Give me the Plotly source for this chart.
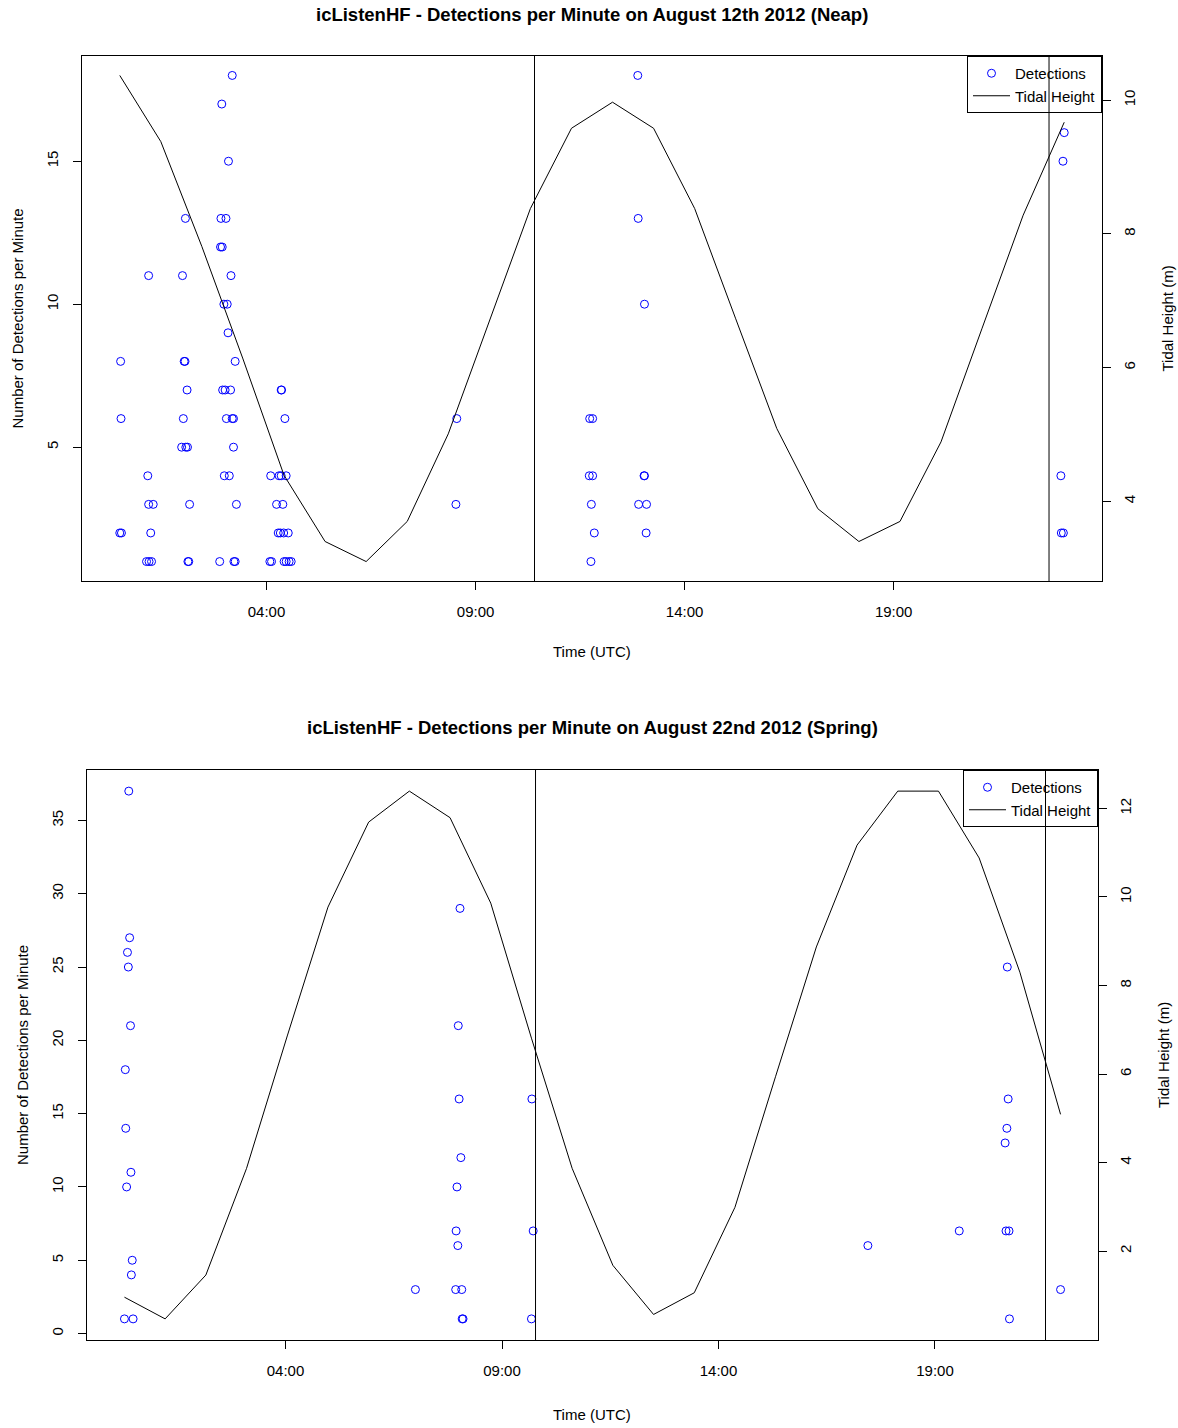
import plotly.graph_objects as go

# ---------------- August 12th 2012 (Neap) ----------------
# detection times (decimal hours UTC) and detections per minute
neap_time = [
    3.18, 12.88,
    2.93,
    23.08,
    3.09, 23.05,
    2.06, 2.91, 3.03, 12.89,
    2.90, 2.94,
    1.18, 1.99, 3.15,
    2.98, 3.06, 13.04,
    3.08,
    0.51, 2.03, 2.05, 3.25,
    2.10, 2.95, 3.01, 3.14, 4.35, 4.36,
    0.52, 2.01, 3.04, 3.18, 3.21, 4.44, 8.55, 11.73, 11.80,
    1.97, 2.07, 2.11, 3.21,
    1.16, 2.99, 3.11, 4.10, 4.30, 4.35, 4.47, 11.72, 11.80, 13.03, 13.04, 23.00,
    1.18, 1.29, 2.16, 3.28, 4.24, 4.39, 8.53, 11.77, 12.90, 13.09,
    0.49, 0.53, 1.23, 4.28, 4.33, 4.41, 4.52, 11.84, 13.08, 23.01, 23.06,
    1.13, 1.19, 1.25, 2.12, 2.14, 2.88, 3.22, 3.25, 4.08, 4.12, 4.42, 4.47, 4.54, 4.59, 11.76,
]
neap_count = (
    [18] * 2 + [17] * 1 + [16] * 1 + [15] * 2 + [13] * 4 + [12] * 2 + [11] * 3
    + [10] * 3 + [9] * 1 + [8] * 4 + [7] * 6 + [6] * 9 + [5] * 4 + [4] * 12
    + [3] * 10 + [2] * 11 + [1] * 15
)

# hourly tidal height (m)
tide_hour = list(range(24))
neap_tide = [10.37, 9.38, 7.81, 6.13, 4.39, 3.40, 3.10, 3.70, 5.01, 6.71, 8.38, 9.58,
             9.97, 9.58, 8.38, 6.73, 5.09, 3.89, 3.40, 3.70, 4.89, 6.59, 8.28, 9.67]

# ---------------- August 22nd 2012 (Spring) ----------------
spring_time = [
    0.28, 0.30, 0.31, 0.33, 0.35, 0.37, 0.38, 0.40, 0.42, 0.43, 0.44, 0.46, 0.48,
    7.00, 7.93, 7.94, 7.96, 7.98, 7.99, 8.01, 8.03, 8.05, 8.07, 8.08, 8.10,
    9.68, 9.69, 9.72,
    17.45, 19.56, 20.62, 20.64, 20.66, 20.67, 20.69, 20.71, 20.72, 21.90,
]
spring_count = [
    1, 18, 14, 10, 26, 25, 37, 27, 21, 11, 4, 5, 1,
    3, 3, 7, 10, 6, 21, 16, 29, 12, 3, 1, 1,
    1, 16, 7,
    6, 7, 13, 7, 14, 25, 16, 7, 1, 3,
]
spring_tide = [0.96, 0.47, 1.46, 3.87, 6.86, 9.77, 11.69, 12.39, 11.79, 9.86, 6.81, 3.87,
               1.68, 0.57, 1.06, 2.99, 5.95, 8.87, 11.17, 12.39, 12.39, 10.88, 8.30, 5.09]

# reference vertical lines, on the tidal time axis
vline_hours = [10.1, 22.63]

time_ticks = [4, 9, 14, 19]
time_labels = ["04:00", "09:00", "14:00", "19:00"]

neap_count_ticks = [5, 10, 15]
neap_tide_ticks = [4, 6, 8, 10]
spring_count_ticks = [0, 5, 10, 15, 20, 25, 30, 35]
spring_tide_ticks = [2, 4, 6, 8, 10, 12]

W, H = 1178, 1428
FONT = "Liberation Sans, Arial, Helvetica, sans-serif"


def padded(vals, frac=0.04):
    lo, hi = min(vals), max(vals)
    d = (hi - lo) * frac
    return [lo - d, hi + d]


def px_x(x):
    return x / W


def px_y(y):
    return 1 - y / H


top_box = dict(x0=82, x1=1102, y0=56, y1=581)
bot_box = dict(x0=87, x1=1098, y0=770, y1=1340)

fig = go.Figure()

panels = [
    dict(box=top_box, t=neap_time, c=neap_count, tide=neap_tide, xa="x", xb="x2", ya="y", yb="y2",
         legend="legend", cticks=neap_count_ticks, hticks=neap_tide_ticks,
         title="icListenHF - Detections per Minute on August 12th 2012 (Neap)",
         title_y=15, xlab_y=652, ylab_x=17, rlab_x=1167),
    dict(box=bot_box, t=spring_time, c=spring_count, tide=spring_tide, xa="x3", xb="x4", ya="y3", yb="y4",
         legend="legend2", cticks=spring_count_ticks, hticks=spring_tide_ticks,
         title="icListenHF - Detections per Minute on August 22nd 2012 (Spring)",
         title_y=727, xlab_y=1414, ylab_x=22, rlab_x=1163),
]

axis_common = dict(showgrid=False, zeroline=False, showline=True, linecolor="black", linewidth=1,
                   ticks="outside", ticklen=8, tickwidth=1, tickcolor="black",
                   tickfont=dict(family=FONT, size=15, color="black"), fixedrange=True)

layout = dict(width=W, height=H, margin=dict(l=0, r=0, t=0, b=0),
              paper_bgcolor="white", plot_bgcolor="white", annotations=[], shapes=[])

for p in panels:
    b = p["box"]
    xdom = [px_x(b["x0"]), px_x(b["x1"])]
    ydom = [px_y(b["y1"]), px_y(b["y0"])]

    fig.add_trace(go.Scatter(
        x=p["t"], y=p["c"], mode="markers", name="Detections",
        marker=dict(symbol="circle-open", size=8, color="blue", line=dict(width=1, color="blue")),
        xaxis=p["xa"], yaxis=p["ya"], legend=p["legend"], showlegend=True))
    fig.add_trace(go.Scatter(
        x=tide_hour, y=p["tide"], mode="lines", name="Tidal Height",
        line=dict(color="black", width=1),
        xaxis=p["xb"], yaxis=p["yb"], legend=p["legend"], showlegend=True))

    xa_key = "xaxis" + p["xa"][1:]
    xb_key = "xaxis" + p["xb"][1:]
    ya_key = "yaxis" + p["ya"][1:]
    yb_key = "yaxis" + p["yb"][1:]

    layout[xa_key] = dict(axis_common, domain=xdom, anchor=p["ya"], range=padded(p["t"]),
                          tickvals=time_ticks, ticktext=time_labels, mirror=True,
                          ticklabelstandoff=9)
    layout[xb_key] = dict(domain=xdom, anchor=p["yb"], overlaying=p["xa"], range=padded(tide_hour),
                          visible=False, fixedrange=True)
    layout[ya_key] = dict(axis_common, domain=ydom, anchor=p["xa"], range=padded(p["c"]),
                          tickvals=p["cticks"], tickangle=-90, mirror=True,
                          ticklabelstandoff=9)
    layout[yb_key] = dict(axis_common, domain=ydom, anchor=p["xa"], overlaying=p["ya"], side="right",
                          range=padded(p["tide"]), tickvals=p["hticks"], tickangle=-90,
                          ticklabelstandoff=6)

    for vx in vline_hours:
        layout["shapes"].append(dict(type="line", xref=p["xb"], yref=p["ya"] + " domain",
                                     x0=vx, x1=vx, y0=0, y1=1,
                                     line=dict(color="black", width=1)))

    cx = px_x((b["x0"] + b["x1"]) / 2)
    cy = px_y((b["y0"] + b["y1"]) / 2)
    layout["annotations"] += [
        dict(text="<b>" + p["title"] + "</b>", xref="paper", yref="paper", x=cx, y=px_y(p["title_y"]),
             xanchor="center", yanchor="middle", showarrow=False,
             font=dict(family=FONT, size=18.5, color="black")),
        dict(text="Time (UTC)", xref="paper", yref="paper", x=cx, y=px_y(p["xlab_y"]),
             xanchor="center", yanchor="middle", showarrow=False,
             font=dict(family=FONT, size=15, color="black")),
        dict(text="Number of Detections per Minute", xref="paper", yref="paper",
             x=px_x(p["ylab_x"]), y=cy, xanchor="center", yanchor="middle", textangle=-90,
             showarrow=False, font=dict(family=FONT, size=15, color="black")),
        dict(text="Tidal Height (m)", xref="paper", yref="paper",
             x=px_x(p["rlab_x"]), y=cy, xanchor="center", yanchor="middle", textangle=-90,
             showarrow=False, font=dict(family=FONT, size=15, color="black")),
    ]

    layout[p["legend"]] = dict(x=xdom[1], y=ydom[1], xanchor="right", yanchor="top",
                               bgcolor="rgba(0,0,0,0)", bordercolor="black", borderwidth=1,
                               font=dict(family=FONT, size=15, color="black"),
                               tracegroupgap=0, itemwidth=37)

fig.update_layout(**layout)
fig.write_html("out.html")
